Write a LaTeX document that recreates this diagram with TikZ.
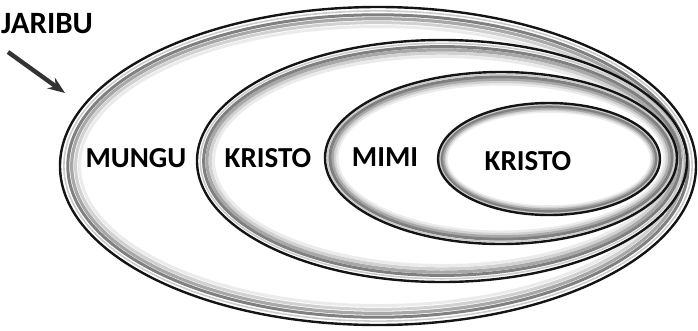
\documentclass[tikz,border=0pt]{standalone}
\usepackage{fontspec}
\setmainfont{Carlito}
\usetikzlibrary{arrows.meta}
\begin{document}
\begin{tikzpicture}[x=1pt,y=-1pt,
    lbl/.style={font=\bfseries\fontsize{29}{29}\selectfont,inner sep=1pt},
    freccia/.style={line width=4.4pt,draw=black!80,-{Stealth[length=17pt,width=13pt]}}]
        %riquadro della figura
        \useasboundingbox (0,0) rectangle (698,330);
        %disegno anelli (centro, raggi, spessore fascia)
        \foreach \cx/\cy/\rx/\ry/\f in {378/166/318/159/1.3, 442/161/245/121/1.1,
                                        501/158/176/86/0.8, 549/159/111/56/0.55}{
            \foreach \d/\c/\w in {15/8/3, 12/18/3, 9/34/3.2, 6/50/3, 3/20/1.6, 0/92/2.4}{
                \draw[line width=\w pt,draw=black!\c]
                    (\cx,\cy) ellipse [x radius=\rx pt-\d*\f pt, y radius=\ry pt-\d*\f pt];
            }
        }
        %scrivo titolo
        \node[lbl,font=\bfseries\fontsize{31}{31}\selectfont,anchor=west,inner sep=0pt] (jaribu) at (1,24) {JARIBU};
        %freccia verso anello esterno
        \coordinate (coda) at (8,52);
        \coordinate (punta) at (65,93);
        \draw[freccia] (coda) -- (punta);
        %etichette degli anelli
        \node[lbl] (mungu) at (136,158) {MUNGU};
        \node[lbl,fill=white,inner sep=3pt] (kristoA) at (268,158) {KRISTO};
        \node[lbl] (mimi) at (385,157) {MIMI};
        \node[lbl] (kristoB) at (528,161) {KRISTO};
\end{tikzpicture}
\end{document}
